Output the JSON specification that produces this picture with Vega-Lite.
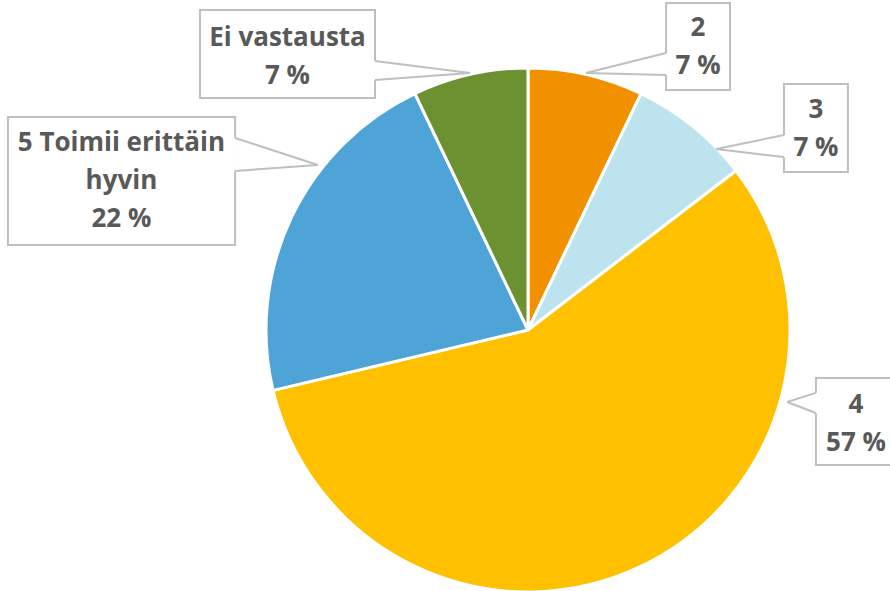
{
  "$schema": "https://vega.github.io/schema/vega-lite/v6.json",
  "autosize": {"type": "none"},
  "padding": 0,
  "width": 890,
  "height": 591,
  "background": "white",
  "config": {"view": {"stroke": null}},
  "datasets": {
    "slices": [
      {"cat": "2", "value": 7.1, "ord": 1},
      {"cat": "3", "value": 7.5, "ord": 2},
      {"cat": "4", "value": 56.7, "ord": 3},
      {"cat": "5 Toimii erittäin hyvin", "value": 21.6, "ord": 4},
      {"cat": "Ei vastausta", "value": 7.1, "ord": 5}
    ],
    "labels": [
      {"cat": "Ei vastausta", "txt": "Ei vastausta\n7 %", "x0": -1.252, "x1": -0.584, "y0": 1.221, "y1": 0.885, "tx": -0.918, "ty": 1.115, "ax": -0.584, "ay": 1.027, "px": -0.221, "py": 0.981, "bx": -0.584, "by": 0.954},
      {"cat": "2", "txt": "2\n7 %", "x0": 0.527, "x1": 0.771, "y0": 1.248, "y1": 0.916, "tx": 0.649, "ty": 1.153, "ax": 0.527, "ay": 1.057, "px": 0.221, "py": 0.981, "bx": 0.527, "by": 0.973},
      {"cat": "3", "txt": "3\n7 %", "x0": 0.977, "x1": 1.221, "y0": 0.939, "y1": 0.603, "tx": 1.099, "ty": 0.84, "ax": 0.977, "ay": 0.744, "px": 0.718, "py": 0.691, "bx": 0.977, "by": 0.66},
      {"cat": "5 Toimii erittäin hyvin", "txt": "5 Toimii erittäin\nhyvin\n22 %", "x0": -1.985, "x1": -1.118, "y0": 0.813, "y1": 0.324, "tx": -1.552, "ty": 0.714, "ax": -1.118, "ay": 0.733, "px": -0.802, "py": 0.63, "bx": -1.118, "by": 0.607},
      {"cat": "4", "txt": "4\n57 %", "x0": 1.099, "x1": 1.42, "y0": -0.183, "y1": -0.515, "tx": 1.252, "ty": -0.286, "ax": 1.099, "ay": -0.24, "px": 0.989, "py": -0.275, "bx": 1.099, "by": -0.317}
    ]
  },
  "layer": [
    {
      "data": {"name": "slices"},
      "mark": {"type": "arc", "outerRadius": 262, "stroke": "white", "strokeWidth": 3},
      "encoding": {
        "x": {"datum": 0, "type": "quantitative", "scale": {"domain": [-2.0153, 1.3817], "nice": false, "zero": false}, "axis": null},
        "y": {"datum": 0, "type": "quantitative", "scale": {"domain": [-0.9962, 1.2595], "nice": false, "zero": false}, "axis": null},
        "theta": {"field": "value", "type": "quantitative", "stack": true},
        "order": {"field": "ord", "type": "quantitative"},
        "color": {
          "field": "cat",
          "type": "nominal",
          "scale": {
            "domain": ["2", "3", "4", "5 Toimii erittäin hyvin", "Ei vastausta"],
            "range": ["#F29100", "#BDE3EF", "#FFC000", "#4FA4D7", "#6B9130"]
          },
          "legend": null
        }
      }
    },
    {
      "data": {"name": "labels"},
      "mark": {"type": "rect", "fill": "white", "stroke": "#BFBFBF", "strokeWidth": 2},
      "encoding": {
        "x": {"field": "x0", "type": "quantitative"},
        "x2": {"field": "x1"},
        "y": {"field": "y0", "type": "quantitative"},
        "y2": {"field": "y1"}
      }
    },
    {
      "data": {"name": "labels"},
      "mark": {"type": "rule", "stroke": "white", "strokeWidth": 3},
      "encoding": {
        "x": {"field": "ax", "type": "quantitative"},
        "y": {"field": "ay", "type": "quantitative"},
        "x2": {"field": "bx"},
        "y2": {"field": "by"}
      }
    },
    {
      "data": {"name": "labels"},
      "mark": {"type": "rule", "stroke": "#BFBFBF", "strokeWidth": 2},
      "encoding": {
        "x": {"field": "ax", "type": "quantitative"},
        "y": {"field": "ay", "type": "quantitative"},
        "x2": {"field": "px"},
        "y2": {"field": "py"}
      }
    },
    {
      "data": {"name": "labels"},
      "mark": {"type": "rule", "stroke": "#BFBFBF", "strokeWidth": 2},
      "encoding": {
        "x": {"field": "bx", "type": "quantitative"},
        "y": {"field": "by", "type": "quantitative"},
        "x2": {"field": "px"},
        "y2": {"field": "py"}
      }
    },
    {
      "data": {"name": "labels"},
      "mark": {"type": "text", "font": "Open Sans", "fontWeight": "bold", "fontSize": 26, "lineHeight": 38, "lineBreak": "\n", "color": "#595959", "align": "center", "baseline": "middle"},
      "encoding": {
        "x": {"field": "tx", "type": "quantitative"},
        "y": {"field": "ty", "type": "quantitative"},
        "text": {"field": "txt"}
      }
    }
  ]
}
